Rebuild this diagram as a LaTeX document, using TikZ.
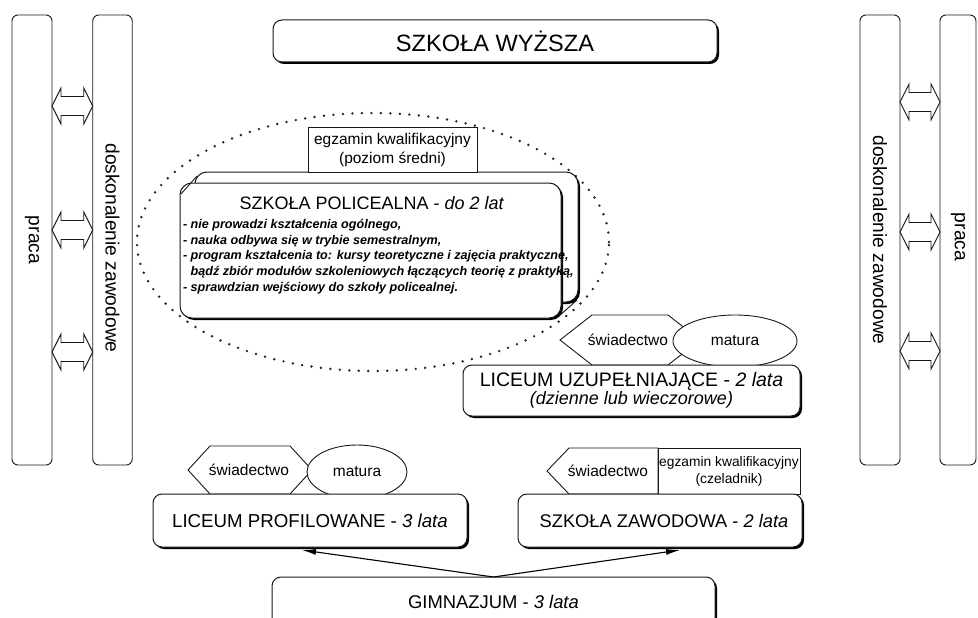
\documentclass[tikz,border=0pt]{standalone}
\usepackage{fontspec}
\setmainfont{Liberation Sans}
\usetikzlibrary{calc,shadows,arrows.meta,shapes.geometric}

\newcommand\setfs[2]{\fontsize{#1}{#2}\selectfont}

% outlined two-headed block arrow between the facing sides of two bars, at height #3
\newcommand\twoway[3]{%
  \draw[twoway] let \p1=(#1.east), \p2=(#2.west) in
    (\x1,-#3pt) -- (\x1+9pt,-#3pt+18pt) -- (\x1+9pt,-#3pt+9.5pt)
    -- (\x2-9pt,-#3pt+9.5pt) -- (\x2-9pt,-#3pt+18pt) -- (\x2,-#3pt)
    -- (\x2-9pt,-#3pt-18pt) -- (\x2-9pt,-#3pt-9.5pt)
    -- (\x1+9pt,-#3pt-9.5pt) -- (\x1+9pt,-#3pt-18pt) -- cycle;}

\tikzset{
  every node/.style={inner sep=0pt, outer sep=0pt},
  linework/.style={draw=black!90, line width=0.9pt},
  barbox/.style={linework, rounded corners=6pt, minimum width=40pt, minimum height=450pt},
  barlabel/.style={rotate=-90, font=\setfs{19.2}{22}},
  shbox/.style={linework, fill=white, rounded corners=9pt, line width=1pt,
    drop shadow={shadow xshift=2pt, shadow yshift=-2pt, opacity=1, fill=black}},
  plainbox/.style={linework, fill=white},
  tagshape/.style={linework, fill=white},
  tagtext/.style={font=\setfs{15.5}{18}},
  oval/.style={ellipse, linework, fill=white, font=\setfs{15.5}{18}},
  twoway/.style={linework, fill=white},
  dotring/.style={draw=black!85, line width=2.7pt, line cap=round, dash pattern=on 0pt off 9.5pt},
  rise/.style={line width=1.1pt, -{Latex[length=14pt,width=6pt]}},
}

\begin{document}
\begin{tikzpicture}[x=1pt,y=-1pt]
\clip (0,0) rectangle (978,618);
\fill[white] (0,0) rectangle (978,618);

% dotted ring around the post-secondary school
\draw[dotring] (373,242) ellipse [x radius=236pt, y radius=129pt];

% side bars: work and professional development
\node[barbox] (pracaL) at (32,240) {};
\node[barbox, minimum width=39.5pt] (doskL) at (112.5,240) {};
\node[barbox] (doskR) at (880,240) {};
\node[barbox, minimum width=36pt] (pracaR) at (958,240) {};
\node[barlabel] (tpracaL) at (32,240) {praca};
\node[barlabel] (tdoskL) at (112.5,248) {doskonalenie zawodowe};
\node[barlabel] (tdoskR) at (880,240) {doskonalenie zawodowe};
\node[barlabel] (tpracaR) at (958,237) {praca};

\twoway{pracaL}{doskL}{106}
\twoway{pracaL}{doskL}{230}
\twoway{pracaL}{doskL}{352}
\twoway{doskR}{pracaR}{102}
\twoway{doskR}{pracaR}{232}
\twoway{doskR}{pracaR}{351}

% higher education
\node[shbox, minimum width=444pt, minimum height=42pt, font=\setfs{23.6}{26}] (wyzsza) at (495,41) {SZKOŁA WYŻSZA};

% post-secondary school block
\node[shbox, rounded corners=12pt, minimum width=383pt, minimum height=130pt] (pback) at (386.5,237) {};
\node[plainbox, minimum width=169pt, minimum height=45pt, align=center, font=\setfs{15.5}{19}] (egzsr) at (392.5,149.5) {egzamin kwalifikacyjny\\(poziom średni)};
\node[shbox, rounded corners=12pt, minimum width=381pt, minimum height=135pt] (pfront) at (370.5,250.5) {};
\draw[linework] ($(pback.north west)+(2,4)$) -- ($(pfront.north west)+(1,11)$);
\draw[linework] ($(pback.south east)+(-1,-2)$) -- ($(pfront.south east)+(-3,-1)$);
\node[font=\setfs{18}{21}] (ptitle) at (372,203) {SZKOŁA POLICEALNA - \textit{do 2 lat}};
\node[anchor=north west, align=left, font=\setfs{12.6}{15.8}\bfseries\itshape] (plist) at (183,219) {%
- nie prowadzi kształcenia ogólnego,\\
- nauka odbywa się w trybie semestralnym,\\
- program kształcenia to: kursy teoretyczne i zajęcia praktyczne,\\
\hphantom{- }bądź zbiór modułów szkoleniowych łączących teorię z praktyką,\\
- sprawdzian wejściowy do szkoły policealnej.};

% supplementary lyceum
\draw[tagshape] (560,340) -- (592,315) -- (668,315) -- (700,340) -- (668,365) -- (592,365) -- cycle;
\node[tagtext] (tagU) at (628,340) {świadectwo};
\node[oval, minimum width=124pt, minimum height=52pt] (matU) at (735,341) {matura};
\node[shbox, minimum width=337pt, minimum height=51pt, align=center] (liceumU) at (631.5,390.5)
  {{\setfs{19.5}{22}LICEUM UZUPEŁNIAJĄCE - \textit{2 lata}}\\{\setfs{18}{21}\itshape(dzienne lub wieczorowe)}};

% profiled lyceum
\draw[tagshape] (188,470) -- (210,446) -- (290,446) -- (312,470) -- (290,494) -- (210,494) -- cycle;
\node[tagtext] (tagL) at (249,470) {świadectwo};
\node[oval, minimum width=100pt, minimum height=54pt] (matL) at (357,472) {matura};
\node[shbox, minimum width=314pt, minimum height=53pt, font=\setfs{18.7}{22}] (lprof) at (310,520.5) {LICEUM PROFILOWANE - \textit{3 lata}};

% vocational school
\draw[tagshape] (547,471) -- (569,448) -- (658,448) -- (658,494) -- (569,494) -- cycle;
\node[tagtext] (tagR) at (608,471) {świadectwo};
\node[plainbox, minimum width=142pt, minimum height=46pt, align=center, font=\setfs{13.8}{17}] (egzcz) at (729,471) {egzamin kwalifikacyjny\\(czeladnik)};
\node[shbox, minimum width=284pt, minimum height=53pt, font=\setfs{18.3}{21}] (szzaw) at (660,520.5) {\hspace{8pt}SZKOŁA ZAWODOWA - \textit{2 lata}};

% lower secondary school
\node[shbox, minimum width=443pt, minimum height=50pt, font=\setfs{18.4}{21}] (gimn) at (493.5,602) {GIMNAZJUM - \textit{3 lata}};
\draw[rise] (gimn.north) -- ($(lprof.south)+(-8,3)$);
\draw[rise] (gimn.north) -- ($(szzaw.south)+(20,3)$);
\end{tikzpicture}
\end{document}
